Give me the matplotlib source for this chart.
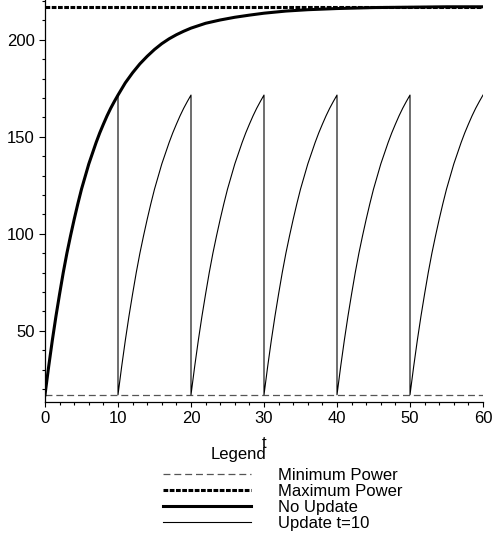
import numpy as np
import matplotlib
matplotlib.use('Agg')
import matplotlib.pyplot as plt
from matplotlib.ticker import MultipleLocator

plt.rcParams['font.family'] = ['Liberation Sans', 'DejaVu Sans']
plt.rcParams['font.size'] = 12
plt.rcParams['lines.scale_dashes'] = False

# power levels
p_min = 17
p_max = 217

# "No Update" curve
t_no_update = [0, 0.5, 1, 1.5, 2, 2.5, 3, 3.5, 4, 4.5, 5, 5.5, 6, 6.5, 7, 7.5, 8, 8.5, 9, 9.5, 10,
               11, 12, 13, 14, 15, 16, 17, 18, 19, 20, 22, 24, 26, 28, 30, 33, 36, 40, 45, 50, 55, 60]
p_no_update = [17, 31.5, 45, 57.5, 69, 80, 90, 99, 107.5, 115.5, 123, 129.5, 136, 141.5, 147, 152, 156.5,
               160.8, 164.7, 168.2, 171.5,
               177.8, 183, 187.6, 191.5, 195, 198, 200.5, 202.6, 204.4, 206, 208.5, 210.2, 211.6, 212.7,
               213.7, 214.8, 215.5, 216.1, 216.6, 216.8, 217, 217]

# "Update t=10" : one charging period, restarted every 10 time units
t_period = [0, 0.5, 1, 1.5, 2, 2.5, 3, 3.5, 4, 4.5, 5, 5.5, 6, 6.5, 7, 7.5, 8, 8.5, 9, 9.5, 10]
p_period = [17, 31.5, 45, 57.5, 69, 80, 90, 99, 107.5, 115.5, 123, 129.5, 136, 141.5, 147, 152, 156.5,
            160.8, 164.7, 168.2, 171.5]
update_starts = [0, 10, 20, 30, 40, 50]

t_update = np.concatenate([np.array(t_period) + s for s in update_starts])
p_update = np.concatenate([p_period for s in update_starts])

fig = plt.figure(figsize=(4.92, 5.38), dpi=100)
ax = fig.add_axes([45 / 492, 136 / 538, 438 / 492, 402 / 538])

ax.plot([0, 60], [p_min, p_min], color='#555555', lw=0.9, dashes=(5, 2.8), label='Minimum Power')
ax.plot([0, 60], [p_max, p_max], color='black', lw=2.2, dashes=(3.4, 1.1), label='Maximum Power')
ax.plot(t_no_update, p_no_update, color='black', lw=2.2, label='No Update')
ax.plot(t_update, p_update, color='black', lw=0.8, label='Update t=10')

ax.set_xlim(0, 60)
ax.set_ylim(13.3, 220.5)
ax.spines['top'].set_visible(False)
ax.spines['right'].set_visible(False)
ax.spines['left'].set_linewidth(0.9)
ax.spines['bottom'].set_linewidth(0.9)

ax.xaxis.set_major_locator(MultipleLocator(10))
ax.xaxis.set_minor_locator(MultipleLocator(2))
ax.yaxis.set_major_locator(MultipleLocator(50))
ax.yaxis.set_minor_locator(MultipleLocator(10))
ax.tick_params(axis='x', which='major', length=3.5, width=0.8, pad=3)
ax.tick_params(axis='x', which='minor', length=2, width=0.8)
ax.tick_params(axis='y', which='major', length=4.5, width=0.8, pad=3)
ax.tick_params(axis='y', which='minor', length=2.2, width=0.8)
ax.set_xlabel('t', labelpad=7)

fig.text(239 / 492, 1 - 455 / 538, 'Legend', ha='center', va='center')

handles, labels = ax.get_legend_handles_labels()
fig.legend(handles, labels, loc='upper left', bbox_to_anchor=(163 / 492, 1 - 468 / 538),
           frameon=False, borderpad=0, borderaxespad=0, handlelength=5.3, handletextpad=1.6,
           labelspacing=0.06, fontsize=12)

fig.savefig('out.png', dpi=100)
